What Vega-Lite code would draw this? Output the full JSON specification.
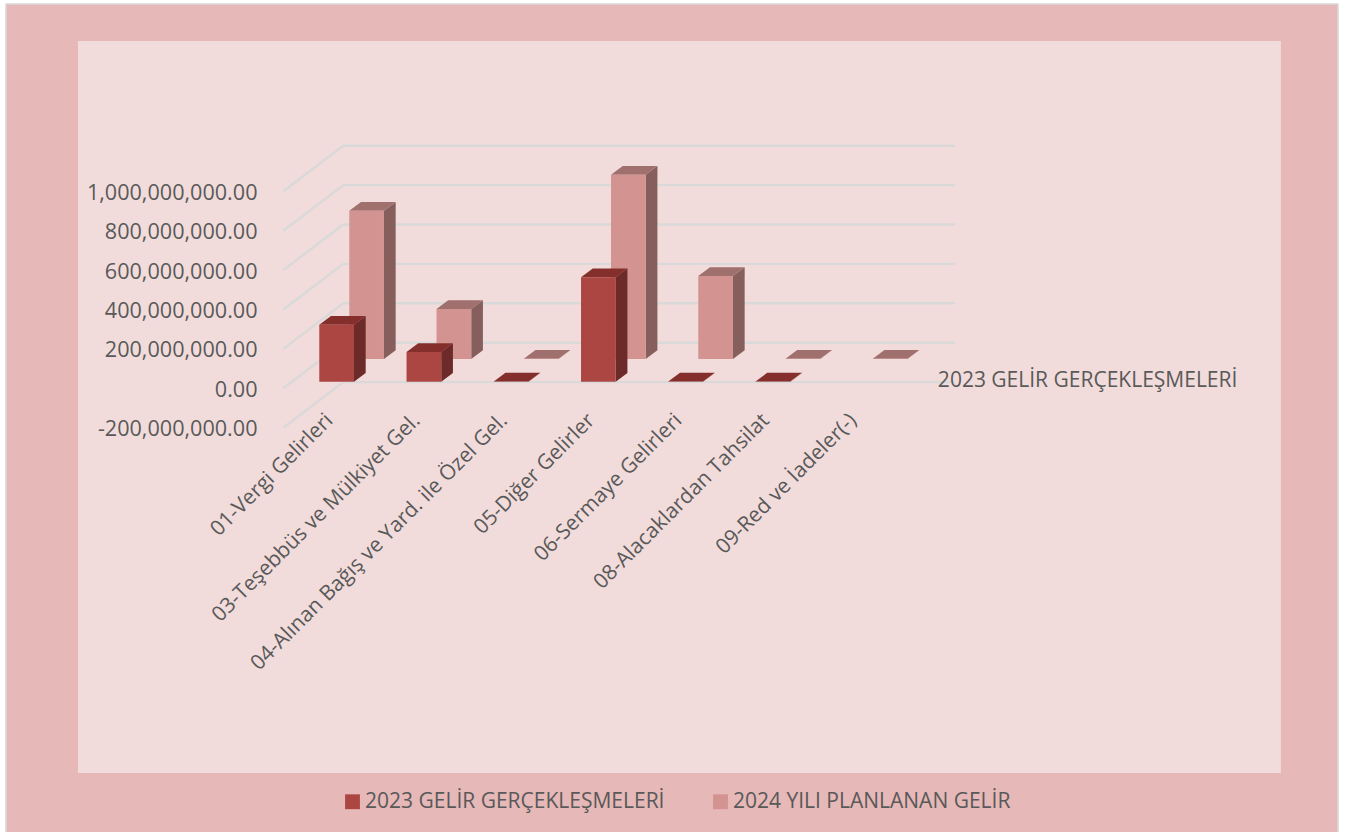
{
"$schema":"https://vega.github.io/schema/vega-lite/v6.json",
"width":1332,"height":830,
"autosize":{"type":"none"},
"padding":{"left":6,"top":4,"right":19,"bottom":-2},
"background":"#FFFFFF",
"config":{"view":{"fill":"#E6B8B7","stroke":"#D9D9D9","strokeWidth":1.6},"font":"Open Sans"},
"datasets":{
"bars":[
{"category":"01-Vergi Gelirleri","series":"2023 GELİR GERÇEKLEŞMELERİ","value":289000000},
{"category":"03-Teşebbüs ve Mülkiyet Gel.","series":"2023 GELİR GERÇEKLEŞMELERİ","value":151000000},
{"category":"04-Alınan Bağış ve Yard. ile Özel Gel.","series":"2023 GELİR GERÇEKLEŞMELERİ","value":1000000},
{"category":"05-Diğer Gelirler","series":"2023 GELİR GERÇEKLEŞMELERİ","value":530000000},
{"category":"06-Sermaye Gelirleri","series":"2023 GELİR GERÇEKLEŞMELERİ","value":1000000},
{"category":"08-Alacaklardan Tahsilat","series":"2023 GELİR GERÇEKLEŞMELERİ","value":1000000},
{"category":"01-Vergi Gelirleri","series":"2024 YILI PLANLANAN GELİR","value":753000000},
{"category":"03-Teşebbüs ve Mülkiyet Gel.","series":"2024 YILI PLANLANAN GELİR","value":254000000},
{"category":"04-Alınan Bağış ve Yard. ile Özel Gel.","series":"2024 YILI PLANLANAN GELİR","value":1000000},
{"category":"05-Diğer Gelirler","series":"2024 YILI PLANLANAN GELİR","value":935000000},
{"category":"06-Sermaye Gelirleri","series":"2024 YILI PLANLANAN GELİR","value":421000000},
{"category":"08-Alacaklardan Tahsilat","series":"2024 YILI PLANLANAN GELİR","value":1000000},
{"category":"09-Red ve İadeler(-)","series":"2024 YILI PLANLANAN GELİR","value":1000000}
],
"grid":[{"level":-200000000},{"level":0},{"level":200000000},{"level":400000000},{"level":600000000},{"level":800000000},{"level":1000000000}]
},
"data":{"name":"bars"},
"transform":[
{"calculate":"indexof(['01-Vergi Gelirleri','03-Teşebbüs ve Mülkiyet Gel.','04-Alınan Bağış ve Yard. ile Özel Gel.','05-Diğer Gelirler','06-Sermaye Gelirleri','08-Alacaklardan Tahsilat','09-Red ve İadeler(-)'],datum.category)","as":"idx"},
{"calculate":"datum.idx+(indexof(datum.series,'2024')==0?0.3438:0)","as":"x0"},
{"calculate":"datum.x0+0.3977","as":"x1"},
{"calculate":"indexof(datum.series,'2024')==0?148700000:33500000","as":"base"},
{"calculate":"datum.base+datum.value","as":"top"},
{"calculate":"datum.x1+0.134","as":"x1b"},
{"calculate":"datum.x0+0.134","as":"x0b"}
],
"encoding":{},
"layer":[
{"data":{"values":[{"part":"panel"}]},"transform":[],"mark":{"type":"rect","fill":"#F2DCDB"},
 "encoding":{"x":{"datum":-2.7656,"type":"quantitative","scale":{"domain":[-3.5908,11.6762],"nice":false,"zero":false},
   "axis":{"values":[0,1,2,3,4,5,6],"orient":"bottom","offset":-417,"title":null,"grid":false,"domain":false,"ticks":false,"labelAngle":-45,"labelAlign":"right","labelBaseline":"middle","labelOffset":10,"labelFontSize":21,"labelColor":"#595959","labelOverlap":false,"labelBound":false,"labelFlush":false,"labelPadding":0,"labelLimit":600,"zindex":1,
   "labelExpr":"['01-Vergi Gelirleri','03-Teşebbüs ve Mülkiyet Gel.','04-Alınan Bağış ve Yard. ile Özel Gel.','05-Diğer Gelirler','06-Sermaye Gelirleri','08-Alacaklardan Tahsilat','09-Red ve İadeler(-)'][datum.value]"}},
  "x2":{"datum":11.021},
  "y":{"datum":1762900000,"type":"quantitative","scale":{"domain":[-2262400000,1950800000],"nice":false,"zero":false},
   "axis":{"values":[-200000000,0,200000000,400000000,600000000,800000000,1000000000],"orient":"left","offset":-277,"title":null,"grid":false,"domain":false,"ticks":false,"labelPadding":26,"labelFontSize":21.6,"labelColor":"#595959","labelOverlap":false,"labelBound":false,"labelLimit":400,"labelOffset":2,"zindex":1,
   "labelExpr":"replace(format(datum.value,',.2f'),'−','-')"}},
  "y2":{"datum":-1952800000}}},
{"data":{"name":"grid"},"transform":[],"mark":{"type":"rule","stroke":"#D9D9D9","strokeWidth":2.4,"yOffset":-45.6},
 "encoding":{"y":{"field":"level","type":"quantitative"},"x":{"datum":0.275,"type":"quantitative"},"x2":{"datum":7.286}}},
{"data":{"name":"grid"},"transform":[],"mark":{"type":"rule","stroke":"#D9D9D9","strokeWidth":2.4,"y2Offset":-45.6},
 "encoding":{"y":{"field":"level","type":"quantitative"},"y2":{"field":"level"},"x":{"datum":-0.4126,"type":"quantitative"},"x2":{"datum":0.275}}},
{"transform":[{"filter":"indexof(datum.series,'2024')==0"},{"fold":["x1","x1b"],"as":["k","sx"]},{"calculate":"datum.k=='x1'?datum.top:datum.top+44200000","as":"sy"},{"calculate":"datum.k=='x1'?datum.base:datum.base+44200000","as":"sy2"}],
 "mark":{"type":"area","fill":"#865F5C","opacity":1},
 "encoding":{"x":{"field":"sx","type":"quantitative"},"y":{"field":"sy","type":"quantitative"},"y2":{"field":"sy2"},"detail":{"field":"category"}}},
{"transform":[{"filter":"indexof(datum.series,'2024')==0"},{"fold":["x0","x0b"],"as":["k","tx"]},{"calculate":"datum.k=='x0'?datum.x1:datum.x1b","as":"tx2"},{"calculate":"datum.k=='x0'?datum.top:datum.top+44200000","as":"ty"}],
 "mark":{"type":"area","orient":"horizontal","fill":"#A0706E","opacity":1},
 "encoding":{"x":{"field":"tx","type":"quantitative"},"x2":{"field":"tx2"},"y":{"field":"ty","type":"quantitative"},"detail":{"field":"category"}}},
{"transform":[{"filter":"indexof(datum.series,'2024')==0"}],
 "mark":{"type":"rect"},
 "encoding":{"x":{"field":"x0","type":"quantitative"},"x2":{"field":"x1"},"y":{"field":"top","type":"quantitative"},"y2":{"field":"base"},
  "color":{"field":"series","type":"nominal","scale":{"domain":["2023 GELİR GERÇEKLEŞMELERİ","2024 YILI PLANLANAN GELİR"],"range":["#AB4642","#D29391"]},
  "legend":{"orient":"none","legendX":336,"legendY":787,"direction":"horizontal","columns":2,"title":null,"symbolType":"square","symbolSize":220,"symbolStrokeWidth":0,"labelFontSize":21,"labelColor":"#595959","columnPadding":45,"labelOffset":2,"labelLimit":400}}}},
{"transform":[{"filter":"indexof(datum.series,'2023')==0"},{"fold":["x1","x1b"],"as":["k","sx"]},{"calculate":"datum.k=='x1'?datum.top:datum.top+44200000","as":"sy"},{"calculate":"datum.k=='x1'?datum.base:datum.base+44200000","as":"sy2"}],
 "mark":{"type":"area","fill":"#6C2A28","opacity":1},
 "encoding":{"x":{"field":"sx","type":"quantitative"},"y":{"field":"sy","type":"quantitative"},"y2":{"field":"sy2"},"detail":{"field":"category"}}},
{"transform":[{"filter":"indexof(datum.series,'2023')==0"},{"fold":["x0","x0b"],"as":["k","tx"]},{"calculate":"datum.k=='x0'?datum.x1:datum.x1b","as":"tx2"},{"calculate":"datum.k=='x0'?datum.top:datum.top+44200000","as":"ty"}],
 "mark":{"type":"area","orient":"horizontal","fill":"#852F2D","opacity":1},
 "encoding":{"x":{"field":"tx","type":"quantitative"},"x2":{"field":"tx2"},"y":{"field":"ty","type":"quantitative"},"detail":{"field":"category"}}},
{"transform":[{"filter":"indexof(datum.series,'2023')==0"}],
 "mark":{"type":"rect"},
 "encoding":{"x":{"field":"x0","type":"quantitative"},"x2":{"field":"x1"},"y":{"field":"top","type":"quantitative"},"y2":{"field":"base"},
  "color":{"field":"series","type":"nominal"}}},
{"data":{"values":[{"label":"2023 GELİR GERÇEKLEŞMELERİ"}]},"transform":[],
 "mark":{"type":"text","align":"left","baseline":"middle","fontSize":21,"color":"#595959"},
 "encoding":{"x":{"datum":7.09,"type":"quantitative"},"y":{"datum":37000000,"type":"quantitative"},"text":{"field":"label"}}}
]
}
